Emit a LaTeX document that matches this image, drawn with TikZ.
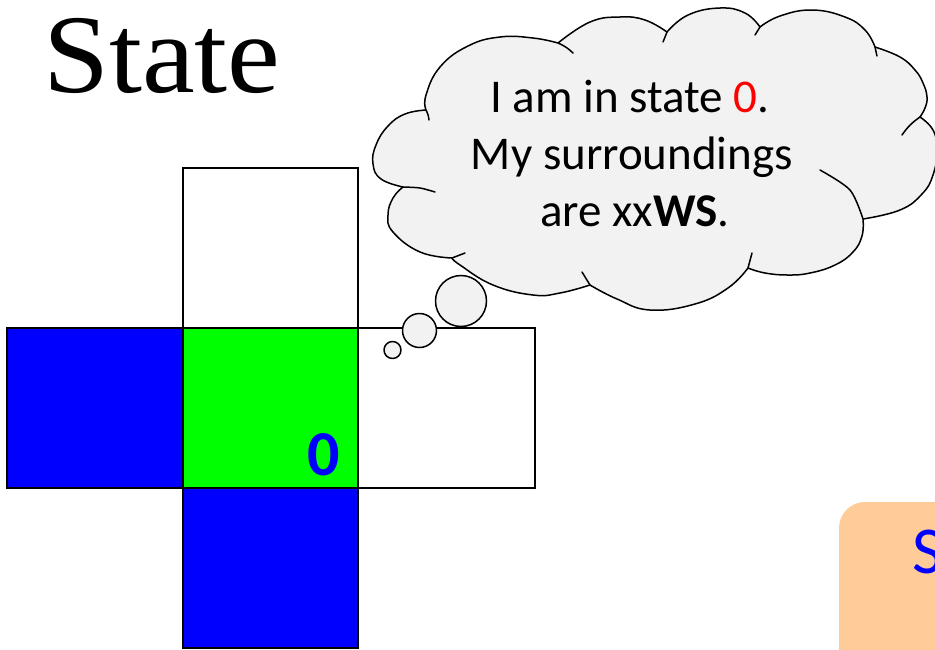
\documentclass[tikz,border=0pt]{standalone}
\usepackage{fontspec}
\setmainfont{Liberation Serif}
\newfontfamily\carlito{Carlito}
\definecolor{cloudgray}{HTML}{F2F2F2}
\definecolor{peach}{HTML}{FFCC99}
\definecolor{pureblue}{HTML}{0000FF}
\definecolor{puregreen}{HTML}{00FF00}
\definecolor{pptred}{HTML}{FF0000}
\tikzset{
  sq/.style={draw=black, line width=2pt},
  cloudline/.style={draw=black, line width=1.5pt, line join=round, line cap=round},
  bubble/.style={cloudline, fill=cloudgray},
  puff/.style={smooth, tension=0.75},
  cloudtext/.style={font=\carlito\fontsize{47}{57}\selectfont, anchor=base, inner sep=0pt},
}
\begin{document}
\begin{tikzpicture}[x=1pt,y=1pt]
\useasboundingbox (0,0) rectangle (935,-649);
\clip (0,0) rectangle (935,-649);

% title
\node[anchor=base west, inner sep=0pt, xscale=1.06, font=\fontsize{112}{120}\selectfont] (title) at (43,-92) {State};

% squares
\draw[sq, fill=white] (183,-168) rectangle (358,-328);
\draw[sq, fill=pureblue] (7,-328) rectangle (183,-488);
\draw[sq, fill=puregreen] (183,-328) rectangle (358,-488);
\draw[sq, fill=white] (358,-328) rectangle (535,-488);
\draw[sq, fill=pureblue] (183,-488) rectangle (358,-648);
\node[anchor=base, inner sep=0pt, text=pureblue, font=\carlito\bfseries\fontsize{64}{70}\selectfont] (zero) at (324,-475) {0};

% cloud outline
\path[cloudline, fill=cloudgray]
  plot[puff] coordinates {(403,-187) (381,-179) (373,-164) (376,-145) (388,-126) (405,-114) (426,-110)}
  -- plot[puff] coordinates {(426,-110) (426,-95) (440,-67) (468,-46) (500,-37) (533,-38) (558,-43)}
  -- plot[puff] coordinates {(558,-43) (590,-22) (620,-17) (645,-20) (667,-32)}
  -- plot[puff] coordinates {(667,-32) (688,-15) (720,-8) (745,-13) (760,-27)}
  -- plot[puff] coordinates {(760,-27) (780,-16) (812,-10) (845,-17) (865,-30) (875,-47)}
  -- plot[puff] coordinates {(875,-47) (900,-57) (915,-70) (923,-83) (927,-97) (925,-108) (920,-117)}
  -- plot[puff] coordinates {(920,-117) (933,-130) (937,-150) (933,-175) (922,-194) (900,-210) (863,-219)}
  -- plot[puff] coordinates {(863,-219) (862,-236) (853,-252) (835,-265) (810,-273) (788,-275) (765,-273) (748,-268)}
  -- plot[puff] coordinates {(748,-268) (728,-288) (695,-304) (650,-310) (617,-299) (590,-285)}
  -- plot[puff] coordinates {(590,-285) (560,-293) (533,-295) (493,-285) (460,-265) (452,-258)}
  -- plot[puff] coordinates {(452,-258) (420,-252) (393,-232) (388,-215) (393,-198) (403,-187)}
  -- cycle;

% inner tails of the cloud
\draw[cloudline] (426,-110) to[bend left=10] (429,-120);
\draw[cloudline] (558,-43) to[bend left=10] (573,-53);
\draw[cloudline] (667,-32) to (663,-42);
\draw[cloudline] (760,-27) to (755,-35);
\draw[cloudline] (875,-47) to (877,-56);
\draw[cloudline] (920,-117) to[bend right=10] (902,-135);
\draw[cloudline] plot[smooth] coordinates {(863,-219) (850,-190) (820,-170)};
\draw[cloudline] (748,-268) to (752,-253);
\draw[cloudline] (590,-285) to (582,-272);
\draw[cloudline] (452,-258) to (465,-253);
\draw[cloudline] plot[smooth] coordinates {(403,-187) (420,-188) (435,-192)};

% thought bubbles
\draw[bubble] (461,-301) circle[radius=25.5];
\draw[bubble] (419.5,-330.5) circle[radius=17];
\draw[bubble] (392.5,-350) circle[radius=8.5];

% cloud text
\node[cloudtext] (line1) at (630,-112) {I am in state \textcolor{pptred}{0}.};
\node[cloudtext] (line2) at (632,-169) {My surroundings};
\node[cloudtext] (line3) at (635,-226) {are xx\textbf{WS}.};

% orange box
\fill[peach, rounded corners=26pt] (839,-502) rectangle (1000,-720);
\node[anchor=base west, inner sep=0pt, text=pureblue, font=\carlito\fontsize{67}{70}\selectfont] (sbox) at (912,-573) {S};
\end{tikzpicture}
\end{document}
